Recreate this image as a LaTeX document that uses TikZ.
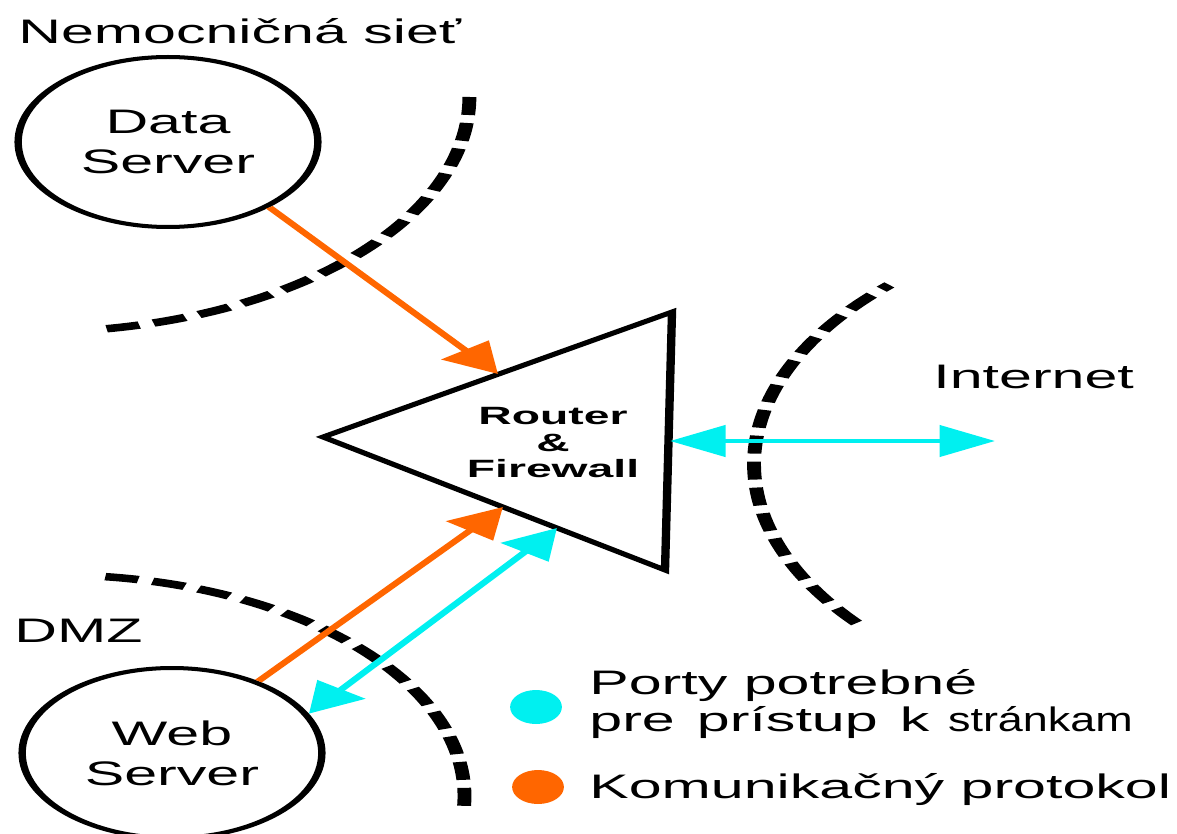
\documentclass[tikz,border=0pt]{standalone}
\usepackage{fontspec}
\setmainfont{Liberation Sans}
\newfontfamily\lblfont[FakeStretch=0.94]{Liberation Sans}
\usetikzlibrary{shapes.geometric,arrows.meta}
\definecolor{orng}{RGB}{255,102,0}
\definecolor{cyn}{RGB}{0,240,240}
\begin{document}
\begin{tikzpicture}[x=1pt,y=-1pt]
\useasboundingbox (0,0) rectangle (1177,834);
\begin{scope}[transform canvas={xscale=1.85}, x=0.540541pt, y=-1pt,
  lbltext/.style={inner sep=0pt, font=\lblfont\fontsize{34}{40}\selectfont},
  srvnode/.style={ellipse, draw, line width=4pt, minimum width=162pt, minimum height=170pt, inner sep=0pt, align=center, font=\lblfont\fontsize{34}{40}\selectfont},
  zoneline/.style={line width=7.5pt, dash pattern=on 18pt off 8pt},
  orarrow/.style={draw=orng, line width=4.5pt, -{Triangle[length=30pt,width=31pt]}},
  cyarrow/.style={draw=cyn, line width=4.5pt, {Triangle[length=30pt,width=31pt]}-{Triangle[length=30pt,width=31pt]}},
  legdot/.style={ellipse, inner sep=0pt, minimum width=28pt, minimum height=34pt}]
% zone boundaries
\draw[zoneline] plot[domain=0:81.7, samples=80] ({34.4+435*cos(\x)},{97+235*sin(\x)});
\draw[zoneline] plot[domain=141.6:224.4, samples=80] ({1228+474*cos(\x)},{464+256*sin(\x)});
\draw[zoneline] plot[domain=-83:4.4, samples=80] ({55.5+409*cos(\x)},{796+221*sin(\x)});
% router triangle
\draw[line width=4.5pt, line join=miter] (323,437) coordinate (tl) -- (672,312) coordinate (tt) -- (665,570) coordinate (tbr) -- cycle;
\node[font=\bfseries\fontsize{25}{26.5}\selectfont, align=center, inner sep=0pt] (rf) at (553,443) {Router\\\&\\Firewall};
\coordinate (ta) at (498,374);
\coordinate (tbo) at (503,507);
\coordinate (tc) at (557,528);
\coordinate (td) at (670,441);
\coordinate (ie) at (995,441);
% servers
\node[srvnode] (ds) at (168,142) {Data\\Server};
\node[srvnode] (ws) at (172,753) {Web\\Server};
% labels
\node[lbltext, anchor=base west] (net) at (18,44) {Nemocničná sieť};
\node[lbltext, anchor=base west] (inet) at (933,388) {Internet};
\node[lbltext, anchor=base west] (dmz) at (14,642) {DMZ};
% connectors
\draw[orarrow] (ds.-50) -- (ta);
\draw[orarrow] (ws.57) -- (tbo);
\draw[cyarrow] (ws.28) -- (tc);
\draw[cyarrow] (td) -- (ie);
% legend
\node[legdot, fill=cyn] (cdot) at (536,707) {};
\node[legdot, fill=orng] (odot) at (538,787) {};
\node[lbltext, anchor=base west] (lg1) at (589,694) {Porty potrebné};
\node[lbltext, anchor=base west] (lg2) at (589,731) {pre\hspace{12pt}prístup\hspace{12pt}k\hspace{10pt}\scalebox{0.76}[1]{stránkam}};
\node[lbltext, anchor=base west] (lg3) at (589,798) {Komunikačný protokol};
\end{scope}
\end{tikzpicture}
\end{document}
